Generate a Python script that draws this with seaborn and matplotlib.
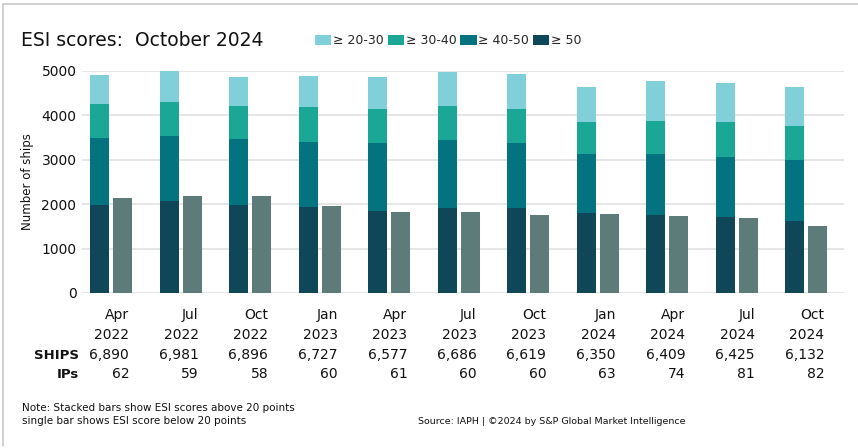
import numpy as np
import pandas as pd
import matplotlib
matplotlib.use("Agg")
import matplotlib.pyplot as plt
import seaborn as sns
from matplotlib.patches import Patch
from matplotlib.lines import Line2D

months = ["Apr", "Jul", "Oct", "Jan", "Apr", "Jul", "Oct", "Jan", "Apr", "Jul", "Oct"]
years = ["2022", "2022", "2022", "2023", "2023", "2023", "2023", "2024", "2024", "2024", "2024"]
ships = ["6,890", "6,981", "6,896", "6,727", "6,577", "6,686", "6,619", "6,350", "6,409", "6,425", "6,132"]
ips = ["62", "59", "58", "60", "61", "60", "60", "63", "74", "81", "82"]

ge50 = [1977, 2068, 1977, 1932, 1842, 1910, 1910, 1797, 1752, 1707, 1617]
ge40_50 = [1512, 1466, 1489, 1466, 1534, 1534, 1466, 1331, 1376, 1353, 1375]
ge30_40 = [774, 767, 745, 790, 767, 767, 767, 722, 744, 790, 767]
ge20_30 = [647, 699, 654, 699, 722, 766, 789, 789, 902, 879, 880]
below20 = [2135, 2180, 2180, 1955, 1820, 1820, 1752, 1774, 1729, 1684, 1504]

series_names = ["≥ 20-30", "≥ 30-40", "≥ 40-50", "≥ 50"]
colors = {"≥ 20-30": "#80CFD9", "≥ 30-40": "#1AA795", "≥ 40-50": "#037380", "≥ 50": "#0F4658"}
single_color = "#5D7C79"

sns.set_theme(style="white")
plt.rcParams["font.family"] = ["DejaVu Sans"]

fig = plt.figure(figsize=(8.58, 4.48), dpi=100)
ax = fig.add_axes([82/858, 1 - 293/448, (844-82)/858, (293-71)/448])

n = len(months)
x = np.arange(n)
w = 0.273
off = 0.165

stack_order = [("≥ 50", ge50), ("≥ 40-50", ge40_50), ("≥ 30-40", ge30_40), ("≥ 20-30", ge20_30)]
cum = np.zeros(n)
cums = []
for name, vals in stack_order:
    cum = cum + np.array(vals)
    cums.append((name, cum.copy()))

for name, c in reversed(cums):
    df = pd.DataFrame({"x": x - off, "y": c})
    sns.barplot(data=df, x="x", y="y", native_scale=True, width=w, color=colors[name],
                saturation=1, linewidth=0, errorbar=None, ax=ax, zorder=3)

df_single = pd.DataFrame({"x": x + off, "y": below20})
sns.barplot(data=df_single, x="x", y="y", native_scale=True, width=w, color=single_color,
            saturation=1, linewidth=0, errorbar=None, ax=ax, zorder=3)

ax.set_xlim(-0.42, 10.54)
ax.set_ylim(0, 5000)
ax.set_yticks([0, 1000, 2000, 3000, 4000, 5000])
ax.yaxis.grid(True, color="#E3E3E3", linewidth=1.3, zorder=0)
ax.set_axisbelow(True)
for s in ax.spines.values():
    s.set_visible(False)
ax.tick_params(axis="y", labelsize=10, length=0, pad=4, colors="#111111")
ax.set_xticks([])
ax.set_xlabel("")
ax.set_ylabel("Number of ships", fontsize=8.5, color="#111111", labelpad=5)

fig.canvas.draw()
for i in range(n):
    xr = i + off + w / 2
    xf = (ax.transData.transform((xr, 0))[0] - 3) / (8.58 * fig.dpi)
    for lab, ypx in [(months[i], 315), (years[i], 335), (ships[i], 355), (ips[i], 374)]:
        fig.text(xf, 1 - ypx / 448, lab, ha="right", va="center", fontsize=10,
                 color="#111111")
fig.text(79/858, 1 - 355/448, "SHIPS", ha="right", va="center", fontsize=9.5,
         fontweight="semibold", color="#111111")
fig.text(79/858, 1 - 374/448, "IPs", ha="right", va="center", fontsize=9.5,
         fontweight="semibold", color="#111111")

fig.text(21/858, 1 - 40/448, "ESI scores:  October 2024", ha="left", va="center",
         fontsize=13.5, color="#111111")

handles = [Patch(facecolor=colors[nm], edgecolor="none") for nm in series_names]
fig.legend(handles, series_names, loc="center left", bbox_to_anchor=(315/858, 1 - 41/448),
           ncol=4, frameon=False, fontsize=9, handlelength=1.3, handleheight=0.9,
           handletextpad=0.15, columnspacing=0.3, borderpad=0, borderaxespad=0)

fig.text(22/858, 1 - 408/448, "Note: Stacked bars show ESI scores above 20 points", ha="left",
         va="center", fontsize=7.5, color="#111111")
fig.text(22/858, 1 - 421/448, "single bar shows ESI score below 20 points", ha="left",
         va="center", fontsize=7.5, color="#111111")
fig.text(418/858, 1 - 421/448, "Source: IAPH | ©2024 by S&P Global Market Intelligence", ha="left",
         va="center", fontsize=6.8, color="#111111")

fig.add_artist(Line2D([3/858, 1], [1 - 4/448, 1 - 4/448], color="#C8C8C8", linewidth=1.2))
fig.add_artist(Line2D([3/858, 3/858], [1 - 4/448, 2/448], color="#C8C8C8", linewidth=1.2))

fig.savefig("out.png", dpi=100, facecolor="white")
